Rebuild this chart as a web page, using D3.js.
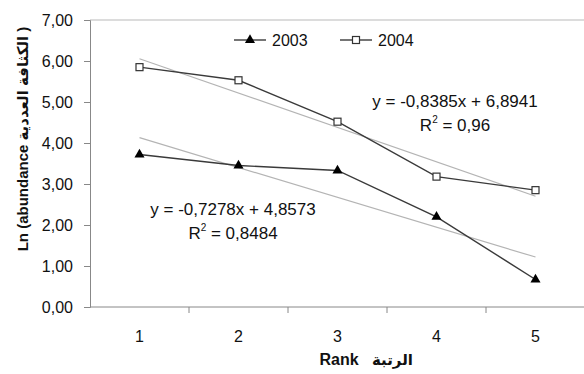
<!DOCTYPE html>
<html lang="en">
<head>
    <meta charset="UTF-8">
    <title>Rank abundance</title>
    <style>
        body {
            margin: 0;
            background-color: #ffffff;
        }
        svg text {
            font-family: 'Liberation Sans', Arial, 'DejaVu Sans', sans-serif;
            fill: #111;
        }
        .axis path, .axis line {
            stroke: #888;
        }
    </style>
    <script src="https://d3js.org/d3.v7.min.js"></script>
</head>
<body>
<svg id="chart" width="584" height="374"></svg>
<script>
    // Chart data
    const ranks = [1, 2, 3, 4, 5];
    const values2003 = [3.72, 3.45, 3.33, 2.20, 0.67];
    const values2004 = [5.85, 5.53, 4.52, 3.18, 2.85];
    const seriesNames = ["2003", "2004"];
    // linear trend lines (slope, intercept) and R² as printed
    const trend2003 = [-0.7278, 4.8573];
    const trend2004 = [-0.8385, 6.8941];
    const r2Labels = ["0,8484", "0,96"];
    const yTicks = [0, 1, 2, 3, 4, 5, 6, 7];

    const svg = d3.select("#chart");
    const fmt = v => v.toFixed(2).replace(".", ",");

    const x = d3.scaleBand().domain(ranks).range([90, 585]);
    const cx = r => x(r) + x.bandwidth() / 2;
    const y = d3.scaleLinear().domain([0, 7]).range([307, 20]);

    // plot area top border
    svg.append("line")
        .attr("x1", 90).attr("x2", 584)
        .attr("y1", y(7)).attr("y2", y(7))
        .attr("stroke", "#d0d0d0").attr("stroke-width", 1.5);

    // y axis
    const yAxis = svg.append("g")
        .attr("class", "axis")
        .attr("transform", "translate(90,0)")
        .call(d3.axisLeft(y).tickValues(yTicks).tickFormat(fmt).tickSize(6).tickPadding(11));
    yAxis.selectAll("text").style("font-size", "16px");

    // x axis, ticks on band boundaries
    const xAxisG = svg.append("g")
        .attr("class", "axis")
        .attr("transform", `translate(0,${y(0)})`);
    xAxisG.append("line")
        .attr("x1", 90).attr("x2", 584).attr("y1", 0).attr("y2", 0);
    xAxisG.selectAll(".bt")
        .data(ranks.slice(1))
        .enter().append("line")
        .attr("x1", d => x(d)).attr("x2", d => x(d))
        .attr("y1", 0).attr("y2", 6);
    xAxisG.selectAll(".lbl")
        .data(ranks)
        .enter().append("text")
        .attr("x", d => cx(d))
        .attr("y", 35)
        .attr("text-anchor", "middle")
        .style("font-size", "16px")
        .text(d => d);

    // axis titles
    svg.append("text")
        .attr("x", 339).attr("y", 365)
        .attr("text-anchor", "middle")
        .style("font-size", "16px").style("font-weight", "bold")
        .text("Rank");
    svg.append("text")
        .attr("x", 372).attr("y", 365)
        .attr("text-anchor", "start")
        .style("font-size", "15px").style("font-weight", "bold")
        .text("الرتبة");
    svg.append("text")
        .attr("transform", "translate(28,139) rotate(-90)")
        .attr("text-anchor", "middle")
        .style("font-size", "15px").style("font-weight", "bold")
        .text("Ln (abundance الكثافة العددية )");

    // trend lines
    [trend2003, trend2004].forEach(t => {
        const ends = [ranks[0], ranks[ranks.length - 1]];
        svg.append("line")
            .attr("x1", cx(ends[0])).attr("y1", y(t[0] * ends[0] + t[1]))
            .attr("x2", cx(ends[1])).attr("y2", y(t[0] * ends[1] + t[1]))
            .attr("stroke", "#b4b4b4").attr("stroke-width", 1.2);
    });

    // data lines
    const line = d3.line().x((d, i) => cx(ranks[i])).y(d => y(d));
    [values2003, values2004].forEach(vals => {
        svg.append("path")
            .attr("d", line(vals))
            .attr("fill", "none")
            .attr("stroke", "#3a3a3a")
            .attr("stroke-width", 1.4);
    });

    // markers
    const tri = d3.symbol().type(d3.symbolTriangle).size(44);
    svg.selectAll(".m03")
        .data(values2003)
        .enter().append("path")
        .attr("d", tri)
        .attr("transform", (d, i) => `translate(${cx(ranks[i])},${y(d)})`)
        .attr("fill", "#000");
    svg.selectAll(".m04")
        .data(values2004)
        .enter().append("rect")
        .attr("x", (d, i) => cx(ranks[i]) - 3.5)
        .attr("y", d => y(d) - 3.5)
        .attr("width", 7).attr("height", 7)
        .attr("fill", "#fff").attr("stroke", "#333").attr("stroke-width", 1.2);

    // legend
    const legend = svg.append("g").attr("transform", "translate(234,40)");
    seriesNames.forEach((name, i) => {
        const g = legend.append("g").attr("transform", `translate(${i * 106},0)`);
        g.append("line").attr("x1", 0).attr("x2", 32).attr("y1", 0).attr("y2", 0)
            .attr("stroke", "#3a3a3a").attr("stroke-width", 1.4);
        if (i === 0) {
            g.append("path").attr("d", tri).attr("transform", "translate(16,0)").attr("fill", "#000");
        } else {
            g.append("rect").attr("x", 12.5).attr("y", -3.5).attr("width", 7).attr("height", 7)
                .attr("fill", "#fff").attr("stroke", "#333").attr("stroke-width", 1.2);
        }
        g.append("text").attr("x", 38).attr("y", 6)
            .style("font-size", "16px").text(name);
    });

    // equation labels
    const eq = (t) => `y = ${String(t[0]).replace(".", ",")}x + ${String(t[1]).replace(".", ",")}`;
    const labels = [
        {t: trend2003, r2: r2Labels[0], x: 233, y: 215},
        {t: trend2004, r2: r2Labels[1], x: 455, y: 107}
    ];
    labels.forEach(l => {
        svg.append("text").attr("x", l.x).attr("y", l.y)
            .attr("text-anchor", "middle").style("font-size", "17px")
            .text(eq(l.t));
        const r = svg.append("text").attr("x", l.x).attr("y", l.y + 24)
            .attr("text-anchor", "middle").style("font-size", "17px");
        r.append("tspan").text("R");
        r.append("tspan").attr("dy", -8).style("font-size", "10px").text("2");
        r.append("tspan").attr("dy", 8).text(" = " + l.r2);
    });
</script>
</body>
</html>
